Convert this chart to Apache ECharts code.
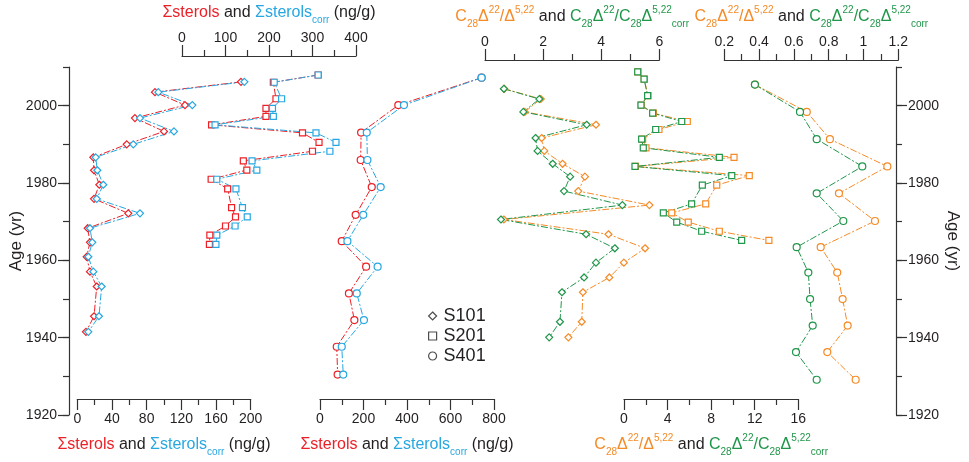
<!DOCTYPE html>
<html>
<head>
    <meta charset="utf-8"/>
    <title>Sterols vs age</title>
    <script src="https://cdn.jsdelivr.net/npm/echarts@6.0.0/dist/echarts.min.js"></script>
</head>
<body style="margin:0;background:#fff;">
<div id="main" style="width:969px;height:462px;"></div>
<script type="text/javascript">
    // ages (yr) of the samples in each core
    var ageS101 = [2006.1, 2003.4, 2000.0, 1996.6, 1993.1, 1989.7, 1986.3, 1982.9, 1979.1, 1975.4, 1971.6, 1967.7, 1964.0, 1960.2, 1956.3, 1952.4, 1944.6, 1940.5];
    var ageS201 = [2008.7, 2006.8, 2002.5, 2000.0, 1997.9, 1995.7, 1993.6, 1991.1, 1988.8, 1986.3, 1983.9, 1981.5, 1979.0, 1974.1, 1971.7, 1969.3, 1966.9, 1964.5];
    var ageS401 = [2007.2, 2000.0, 1992.8, 1985.6, 1978.5, 1971.2, 1964.3, 1957.6, 1950.6, 1943.6, 1936.6, 1929.3];

    // Σsterols / Σsterols corr (ng/g)
    var sterS101 = [188.8, 89.6, 124.2, 66.5, 100.0, 57.0, 18.5, 19.3, 25.4, 19.3, 58.8, 12.0, 14.6, 10.8, 14.6, 22.4, 19.3, 10.0];
    var sterCorrS101 = [192.7, 93.5, 132.7, 72.3, 111.5, 64.6, 21.2, 23.1, 30.0, 22.4, 72.3, 14.6, 17.3, 12.7, 18.5, 28.1, 25.0, 12.7];
    var sterS201 = [313, 210, 216, 193, 193, 68, 277, 315, 300, 141, 149, 67, 105, 114, 123, 100, 64, 63];
    var sterCorrS201 = [313, 212, 229, 208, 210, 76, 308, 354, 340, 161, 172, 80, 124, 139, 150, 122, 80, 78];
    var sterS401 = [743, 360, 189, 187, 238, 164, 100, 212, 133, 158, 77, 81];
    var sterCorrS401 = [743, 386, 215, 218, 279, 199, 126, 265, 169, 202, 100, 107];

    // C28Δ22/Δ5,22 (orange) and the corrected ratio (green)
    var ratioS101 = [0.66, 1.92, 1.37, 3.82, 1.95, 2.04, 2.67, 3.44, 3.21, 5.66, 0.65, 4.25, 5.51, 4.78, 4.28, 3.37, 3.33, 2.87];
    var ratioCorrS101 = [0.65, 1.87, 1.32, 3.50, 1.74, 1.81, 2.33, 2.93, 2.72, 4.73, 0.55, 3.48, 4.47, 3.82, 3.41, 2.65, 2.58, 2.21];
    var ratioS201 = [1.28, 1.86, 2.20, 1.58, 2.70, 5.81, 3.21, 1.71, 2.02, 10.1, 1.05, 11.5, 8.51, 7.50, 4.38, 5.90, 8.75, 13.3];
    var ratioCorrS201 = [1.26, 1.84, 2.17, 1.56, 2.63, 5.30, 2.91, 1.62, 1.77, 8.75, 1.01, 9.89, 7.19, 6.21, 3.61, 4.84, 7.13, 10.8];
    var ratioS401 = [0.376, 0.674, 0.807, 1.137, 0.859, 1.066, 0.754, 0.849, 0.880, 0.909, 0.792, 0.955];
    var ratioCorrS401 = [0.376, 0.635, 0.731, 0.993, 0.731, 0.884, 0.616, 0.683, 0.693, 0.708, 0.612, 0.731];

    // age axis
    var ageMin = 1920, ageMax = 2010;
    var ageLabels = [1920, 1940, 1960, 1980, 2000];
    var cores = ['S101', 'S201', 'S401'];

    var RED = '#ec2027', BLUE = '#27a7e1', ORANGE = '#f58b27', GREEN = '#20964a', INK = '#231f20';
    var FONT = '"Liberation Sans", Arial, sans-serif';

    var myChart = echarts.init(document.getElementById('main'));

    var rich = {
        r: {color: RED, fontSize: 16, lineHeight: 24, fontFamily: FONT},
        b: {color: BLUE, fontSize: 16, lineHeight: 24, fontFamily: FONT},
        bs: {color: BLUE, fontSize: 10, lineHeight: 16, verticalAlign: 'bottom', fontFamily: FONT},
        k: {color: INK, fontSize: 16, lineHeight: 24, fontFamily: FONT},
        o: {color: ORANGE, fontSize: 16, lineHeight: 24, fontFamily: FONT},
        os: {color: ORANGE, fontSize: 10, lineHeight: 16, verticalAlign: 'bottom', fontFamily: FONT},
        op: {color: ORANGE, fontSize: 10, lineHeight: 12, verticalAlign: 'top', fontFamily: FONT},
        g: {color: GREEN, fontSize: 16, lineHeight: 24, fontFamily: FONT},
        gs: {color: GREEN, fontSize: 10, lineHeight: 16, verticalAlign: 'bottom', fontFamily: FONT},
        gp: {color: GREEN, fontSize: 10, lineHeight: 12, verticalAlign: 'top', fontFamily: FONT},
        gc: {color: GREEN, fontSize: 10, lineHeight: 12, verticalAlign: 'bottom', fontFamily: FONT}
    };
    var sterName = '{r|Σsterols}{k| and }{b|Σsterols}{bs|corr}{k| (ng/g)}';
    var ratioName = '{o|C}{os|28}{o|Δ}{op|22}{o|/Δ}{op|5,22}{k| and }{g|C}{gs|28}{g|Δ}{gp|22}{g|/C}{gs|28}{g|Δ}{gp|5,22}{gc|corr}';

    var axisLineStyle = {color: '#333', width: 1.2};
    var labelStyle = {color: INK, fontSize: 14, fontFamily: FONT};
    function plain(v) { return String(v); }

    // six panels: left px, width, min, max, label step, axis side, title
    var panels = [
        {left: 77.3, width: 173.4, min: 0, max: 200, step: 40, pos: 'bottom', title: sterName},
        {left: 182, width: 174, min: 0, max: 400, step: 100, pos: 'top', title: sterName},
        {left: 320, width: 174, min: 0, max: 800, step: 200, pos: 'bottom', title: sterName},
        {left: 485, width: 174.3, min: 0, max: 6, step: 2, pos: 'top', title: ratioName},
        {left: 624, width: 174.3, min: 0, max: 16, step: 4, pos: 'bottom', title: ratioName},
        {left: 724.3, width: 174, min: 0.2, max: 1.2, step: 0.2, pos: 'top', title: ratioName}
    ];

    var grids = [{left: 65, width: 836, top: 67, height: 348}];
    var xAxes = [{gridIndex: 0, type: 'value', show: false, min: 0, max: 1}];
    var yAxes = [
        {gridIndex: 0, type: 'value', min: ageMin, max: ageMax, interval: 10, position: 'left',
            axisLine: {show: true, lineStyle: axisLineStyle}, axisTick: {show: true, length: 6, lineStyle: axisLineStyle},
            axisLabel: {show: false}, splitLine: {show: false},
            name: 'Age (yr)', nameLocation: 'middle', nameGap: 44,
            nameTextStyle: {color: INK, fontSize: 17, fontFamily: FONT}},
        {gridIndex: 0, type: 'value', min: ageMin, max: ageMax, interval: 10, position: 'left',
            axisLine: {show: false}, axisTick: {show: true, length: 11, customValues: ageLabels, lineStyle: axisLineStyle},
            axisLabel: {show: true, customValues: ageLabels, margin: 12, formatter: plain,
                color: INK, fontSize: 14, fontFamily: FONT},
            splitLine: {show: false}},
        {gridIndex: 0, type: 'value', min: ageMin, max: ageMax, interval: 10, position: 'right',
            axisLine: {show: true, lineStyle: axisLineStyle}, axisTick: {show: true, length: 6, lineStyle: axisLineStyle},
            axisLabel: {show: false}, splitLine: {show: false},
            name: 'Age (yr)', nameLocation: 'middle', nameGap: 48, nameRotate: -90,
            nameTextStyle: {color: INK, fontSize: 17, fontFamily: FONT}},
        {gridIndex: 0, type: 'value', min: ageMin, max: ageMax, interval: 10, position: 'right',
            axisLine: {show: false}, axisTick: {show: true, length: 11, customValues: ageLabels, lineStyle: axisLineStyle},
            axisLabel: {show: true, customValues: ageLabels, margin: 12, formatter: plain,
                color: INK, fontSize: 14, fontFamily: FONT},
            splitLine: {show: false}}
    ];

    panels.forEach(function (p, i) {
        var bottom = p.pos === 'bottom';
        grids.push({left: p.left, width: p.width, top: 67, height: 348});
        xAxes.push({
            gridIndex: i + 1, type: 'value', position: p.pos, min: p.min, max: p.max, interval: p.step,
            offset: bottom ? -11 : 14,
            axisLine: {show: true, lineStyle: axisLineStyle},
            axisTick: {show: true, length: 11, lineStyle: axisLineStyle},
            minorTick: {show: true, splitNumber: 2, length: 6, lineStyle: axisLineStyle},
            axisLabel: {margin: bottom ? 13 : 11, color: INK, fontSize: 14, fontFamily: FONT},
            splitLine: {show: false},
            name: p.title, nameLocation: 'middle', nameGap: bottom ? 34 : 31,
            nameTextStyle: {rich: rich}
        });
        yAxes.push({gridIndex: i + 1, type: 'value', show: false, min: ageMin, max: ageMax});
    });

    var dash = [7, 2, 2, 2];
    function profile(name, panel, ages, vals, color, symbol, size) {
        return {
            type: 'line', name: name, xAxisIndex: panel + 1, yAxisIndex: panel + 4,
            data: vals.map(function (v, k) { return [v, ages[k]]; }),
            symbol: symbol, symbolSize: size, showSymbol: true, clip: false,
            lineStyle: {width: 1, type: dash, color: color},
            itemStyle: {color: '#fff', borderColor: color, borderWidth: 1.2},
            silent: true, animation: false
        };
    }

    var series = [
        profile('a', 0, ageS101, sterS101, RED, 'diamond', 7),
        profile('b', 0, ageS101, sterCorrS101, BLUE, 'diamond', 7),
        profile('c', 1, ageS201, sterS201, RED, 'rect', 6),
        profile('d', 1, ageS201, sterCorrS201, BLUE, 'rect', 6),
        profile('e', 2, ageS401, sterS401, RED, 'circle', 7),
        profile('f', 2, ageS401, sterCorrS401, BLUE, 'circle', 7),
        profile('g', 3, ageS101, ratioS101, ORANGE, 'diamond', 7),
        profile('h', 3, ageS101, ratioCorrS101, GREEN, 'diamond', 7),
        profile('i', 4, ageS201, ratioS201, ORANGE, 'rect', 6),
        profile('j', 4, ageS201, ratioCorrS201, GREEN, 'rect', 6),
        profile('k', 5, ageS401, ratioS401, ORANGE, 'circle', 7),
        profile('l', 5, ageS401, ratioCorrS401, GREEN, 'circle', 7)
    ];
    // legend entries (empty series)
    var legendIcons = ['diamond', 'rect', 'circle'];
    cores.forEach(function (c, k) {
        series.push({type: 'scatter', name: c, xAxisIndex: 0, yAxisIndex: 0, data: [],
            symbol: legendIcons[k], itemStyle: {color: '#fff', borderColor: INK, borderWidth: 1.2}});
    });

    var option = {
        animation: false,
        grid: grids,
        xAxis: xAxes,
        yAxis: yAxes,
        legend: {
            orient: 'vertical', left: 423, top: 302, itemGap: 2, itemWidth: 8, itemHeight: 8,
            selectedMode: false,
            data: cores.map(function (c, k) {
                return {name: c, icon: legendIcons[k], itemStyle: {color: '#fff', borderColor: INK, borderWidth: 1.2}};
            }),
            textStyle: {color: INK, fontSize: 18, lineHeight: 18, fontFamily: FONT, padding: [0, 0, 0, 2]}
        },
        series: series
    };

    myChart.setOption(option);
</script>
</body>
</html>
